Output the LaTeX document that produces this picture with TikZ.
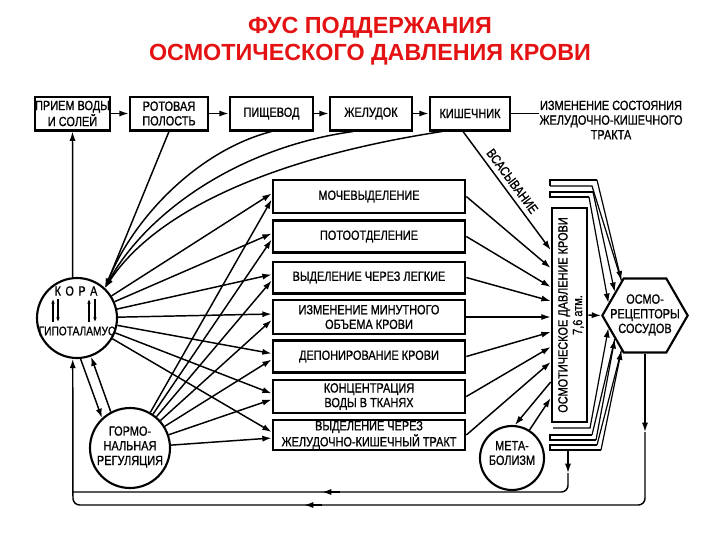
\documentclass[tikz,border=0pt]{standalone}
\usepackage{fontspec}
\setmainfont{Liberation Sans}
\newfontfamily\nar{Liberation Sans}[FakeStretch=0.82,FakeBold=0.9]
\usetikzlibrary{arrows.meta,shapes.geometric,calc}
\definecolor{ttl}{RGB}{228,18,18}
\begin{document}
\begin{tikzpicture}[x=0.75pt,y=-0.75pt,
  conn/.style={line width=1.1pt},
  arr/.style={conn,-{Latex[length=7pt,width=4.6pt]}},
  sarr/.style={line width=0.8pt,-{Latex[length=3.5pt,width=2.8pt]}},
  box/.style={draw,line width=2pt,inner sep=0pt,align=center,font=\nar\fontsize{10}{11}\selectfont},
  mbox/.style={box,minimum width=144pt},
  circ/.style={draw,circle,line width=1.6pt,inner sep=0pt},
  lbl/.style={inner sep=0pt,align=center,font=\nar\fontsize{10}{11}\selectfont},
  plate/.style={line width=0.9pt}]
\useasboundingbox (0,0) rectangle (720,540);

% title
\node[font=\bfseries\fontsize{17.5}{20}\selectfont,text=ttl,align=center] (title) at (370,41)
  {ФУС ПОДДЕРЖАНИЯ\\ОСМОТИЧЕСКОГО ДАВЛЕНИЯ КРОВИ};

% top row
\node[box,minimum width=56pt,minimum height=25pt] (priem) at (72.5,113.5) {ПРИЕМ ВОДЫ\\И СОЛЕЙ};
\node[box,minimum width=58.5pt,minimum height=25pt] (rot) at (169,113.5) {РОТОВАЯ\\ПОЛОСТЬ};
\node[box,minimum width=62.25pt,minimum height=25pt] (pish) at (271.5,113.5) {ПИЩЕВОД};
\node[box,minimum width=61.5pt,minimum height=25pt] (zhel) at (371,113.5) {ЖЕЛУДОК};
\node[box,minimum width=60pt,minimum height=25pt] (kish) at (470,113.5) {КИШЕЧНИК};
\node[lbl] (gkt) at (611,120) {ИЗМЕНЕНИЕ СОСТОЯНИЯ\\ЖЕЛУДОЧНО-КИШЕЧНОГО\\ТРАКТА};

\draw[arr] (priem) -- (rot);
\draw[arr] (rot) -- (pish);
\draw[arr] (pish) -- (zhel);
\draw[arr] (zhel) -- (kish);
\draw[conn] (kish.east) -- (kish.east -| gkt.west);

% middle boxes
\node[mbox,minimum height=24.75pt] (b1) at (369,196.5) {МОЧЕВЫДЕЛЕНИЕ};
\node[mbox,minimum height=24pt] (b2) at (369,236.5) {ПОТООТДЕЛЕНИЕ};
\node[mbox,minimum height=23.5pt] (b3) at (369,277.5) {ВЫДЕЛЕНИЕ ЧЕРЕЗ ЛЕГКИЕ};
\node[mbox,minimum height=25.5pt] (b4) at (369,317) {ИЗМЕНЕНИЕ МИНУТНОГО\\ОБЪЕМА КРОВИ};
\node[mbox,minimum height=24pt] (b5) at (369,356.5) {ДЕПОНИРОВАНИЕ КРОВИ};
\node[mbox,minimum height=24.75pt] (b6) at (369,396.5) {КОНЦЕНТРАЦИЯ\\ВОДЫ В ТКАНЯХ};
\node[mbox,minimum height=22.5pt] (b7) at (369,435) {ВЫДЕЛЕНИЕ ЧЕРЕЗ\\ЖЕЛУДОЧНО-КИШЕЧНЫЙ ТРАКТ};

% circles
\node[circ,minimum size=60pt] (kora) at (77,318) {};
\node[font=\nar\fontsize{10}{11}\selectfont,inner sep=0pt] (koratxt) at (76,291) {К\,\,О\,\,Р\,\,А};
\node[lbl,font=\nar\fontsize{9.3}{11}\selectfont] (gipo) at (77,331) {ГИПОТАЛАМУС};
\draw[sarr] (53,322) -- (53,299);
\draw[sarr] (58,299) -- (58,322);
\draw[sarr] (89,322) -- (89,299);
\draw[sarr] (95,299) -- (95,322);

\node[circ,minimum size=60pt] (gorm) at (130,448) {};
\node[lbl] (gormtxt) at (130,447) {ГОРМО-\\НАЛЬНАЯ\\РЕГУЛЯЦИЯ};

\node[circ,minimum size=48pt] (meta) at (512,458) {};
\node[lbl] (metatxt) at (512,453) {МЕТА-\\БОЛИЗМ};

% osmotic pressure box
\node[draw,line width=2pt,minimum width=26.25pt,minimum height=160.5pt,inner sep=0pt] (osm) at (569.5,315) {};
\node[lbl,rotate=90] (osmtxt) at (571,315) {ОСМОТИЧЕСКОЕ ДАВЛЕНИЕ КРОВИ\\7,6 атм.};

% osmoreceptors
\node[draw,line width=1.6pt,regular polygon,regular polygon sides=6,minimum size=64pt,inner sep=0pt] (hex) at (645,315.5) {};
\node[lbl] (hextxt) at (645,315) {ОСМО-\\РЕЦЕПТОРЫ\\СОСУДОВ};

% top row -> kora
\draw[arr] (kora.96) -- (priem.south);
\draw[arr] (rot.south) -- (kora.47);
\draw[arr] (pish.south) .. controls (200,150) and (135,215) .. (kora.47);
\draw[arr] ($(zhel.south)+(-18,0)$) .. controls (235,148) and (145,215) .. (kora.47);
\draw[arr] ($(kish.south)+(-28,0)$) .. controls (270,158) and (155,212) .. (kora.47);

% kora / gorm -> boxes
\foreach \b in {b1,b2,b3,b4,b5,b6,b7}{
  \draw[arr] (kora) -- ($(\b.west)+(0,-3)$);
  \draw[arr] (gorm) -- ($(\b.west)+(0,3)$);
}
\draw[arr] (kora.-85) -- (gorm.133);
\draw[arr] (gorm.118) -- (kora.-70);

% boxes -> osmotic box
\draw[arr] ($(kish.south)+(-7,0)$) -- node[pos=0.47,sloped,above=3.5pt,lbl] (vsas) {ВСАСЫВАНИЕ} ($(osm.west)+(0,-65)$);
\draw[arr] (b1.east) -- ($(osm.west)+(0,-47)$);
\draw[arr] (b2.east) -- ($(osm.west)+(0,-28)$);
\draw[arr] (b3.east) -- ($(osm.west)+(0,-14)$);
\draw[arr] (b4.east) -- ($(osm.west)+(0,2)$);
\draw[arr] (b5.east) -- ($(osm.west)+(0,17)$);
\draw[arr] (b6.east) -- ($(osm.west)+(0,32)$);
\draw[arr] (b7.east) -- ($(osm.west)+(0,47)$);
\draw[arr] ($(osm.west)+(0,67)$) -- (meta.85);
\draw[arr] (meta.58) -- ($(osm.west)+(0,83)$);

% osmotic box -> osmoreceptors
\draw[arr] (osm.east) -- (hex.west);

% plates (top)
\draw[plate] (550,186) -- (550,180) -- (597,180);
\draw[arr,plate] (597,180) -- (hex.124);
\draw[plate] (550,186) -- (592,186) -- (hex.124);
\draw[plate] (593,192) -- (550,192) -- (550,197) -- (589,197);
\draw[arr,plate] (593,192) -- (hex.142);
\draw[arr,plate] (589,197) -- (hex.161);
% plates (bottom)
\draw[arr,plate] (553,428) -- (590,428) -- (hex.199);
\draw[plate] (592,435) -- (550,435) -- (550,440) -- (596,440);
\draw[arr,plate] (596,440) -- (hex.218);
\draw[plate] (592,435) -- (hex.218);
\draw[plate] (597,445) -- (550,445) -- (550,450) -- (601,450);
\draw[arr,plate] (601,450) -- (hex.236);
\draw[plate] (597,445) -- (hex.236);

% feedback lines
\coordinate (pl) at (568,450);
\coordinate (j1) at (568,473);
\draw[arr] (pl) -- (j1);
\draw[conn,rounded corners=5pt] (j1) |- (73,492);
\draw[arr] (340,492) -- (322,492);
\coordinate (j2) at (645,432);
\draw[arr] (hex.south) -- (j2);
\draw[arr,rounded corners=5pt] (j2) |- (73,505) -- (kora.-96);
\draw[arr] (322,505) -- (304,505);
\end{tikzpicture}
\end{document}
